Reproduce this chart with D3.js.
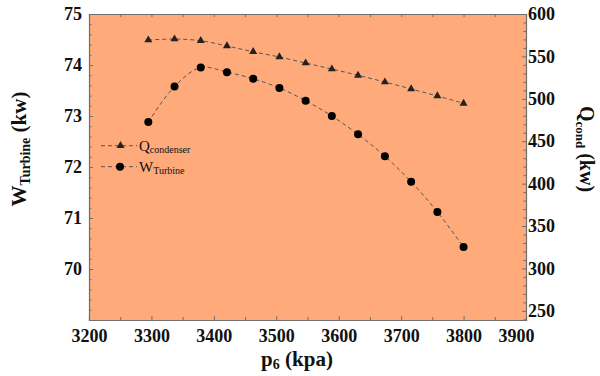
<!DOCTYPE html>
<html><head><meta charset="utf-8">
<script src="https://cdn.jsdelivr.net/npm/d3@7"></script>
<style>body{margin:0;background:#fff}svg{display:block}text{font-family:'Liberation Serif','Times New Roman',serif}</style>
</head><body><svg id="c" width="600" height="376"></svg>
<script>
const pressure = [3295,3337,3379,3421,3463,3505,3547,3589,3631,3674,3716,3758,3800];
const qCondenser = [569.3,570.5,568.5,562.3,555.5,549.3,542.2,535.1,527.7,519.8,511.6,503.3,494.7];
const wTurbine = [72.88,73.58,73.95,73.86,73.73,73.55,73.30,73.00,72.64,72.21,71.71,71.12,70.43];
const xTicks = [3200,3300,3400,3500,3600,3700,3800,3900];
const wTicks = [70,71,72,73,74,75];
const qTicks = [250,300,350,400,450,500,550,600];

const svg = d3.select("#c");
const L=89,R=526,T=14,B=320;
const x = d3.scaleLinear().domain([3200,3900]).range([L,R]);
const yW = d3.scaleLinear().domain([69,75]).range([B,T]);
const yQ = d3.scaleLinear().domain([239.2,600]).range([B,T]);
const axisCol="#6e6e6e";
const font="'Liberation Serif','Times New Roman',serif";

svg.append("rect").attr("x",L).attr("y",T).attr("width",R-L).attr("height",B-T).attr("fill","#FEAA7A");

function styleAxis(g){
  g.attr("font-family",null);
  g.selectAll("path.domain").attr("stroke",axisCol).attr("stroke-width",1.2);
  g.selectAll(".tick line").attr("stroke",axisCol);
  g.selectAll("text").style("font-family",font).attr("font-weight","bold").attr("font-size",18).attr("fill","#111");
}
// bottom axis
const gx = svg.append("g").attr("transform",`translate(0,${B})`)
  .call(d3.axisBottom(x).tickValues(xTicks).tickSize(-4).tickPadding(9).tickFormat(d3.format("d")));
styleAxis(gx);
gx.selectAll(".tick").filter(d=>d===3900).select("text").attr("text-anchor","end").attr("dx",8);
svg.append("g").attr("transform",`translate(0,${B})`)
  .call(d3.axisBottom(x).tickValues(d3.range(3250,3900,100)).tickSize(-3).tickFormat(""))
  .call(g=>{g.select(".domain").remove();g.selectAll("line").attr("stroke",axisCol);});
// top axis
svg.append("g").attr("transform",`translate(0,${T})`)
  .call(d3.axisTop(x).tickValues(d3.range(3250,3900,50)).tickSize(-3).tickFormat(""))
  .call(g=>{g.select(".domain").attr("stroke",axisCol).attr("stroke-width",1.2);g.selectAll("line").attr("stroke",axisCol);});
// left axis
const gl = svg.append("g").attr("transform",`translate(${L},0)`)
  .call(d3.axisLeft(yW).tickValues(wTicks).tickSize(-4).tickPadding(7).tickFormat(d3.format("d")));
styleAxis(gl);
svg.append("g").attr("transform",`translate(${L},0)`)
  .call(d3.axisLeft(yW).tickValues(d3.range(69.2,75,0.2).filter(v=>Math.abs(v-Math.round(v))>0.05)).tickSize(-2.5).tickFormat(""))
  .call(g=>{g.select(".domain").remove();g.selectAll("line").attr("stroke",axisCol);});
// right axis
const gr = svg.append("g").attr("transform",`translate(${R},0)`)
  .call(d3.axisRight(yQ).tickValues(qTicks).tickSize(-4).tickPadding(2).tickFormat(d3.format("d")));
styleAxis(gr);
svg.append("g").attr("transform",`translate(${R},0)`)
  .call(d3.axisRight(yQ).tickValues(d3.range(240,600,10).filter(v=>v%50!==0)).tickSize(-2.5).tickFormat(""))
  .call(g=>{g.select(".domain").remove();g.selectAll("line").attr("stroke",axisCol);});

// lines
const lineQ = d3.line().x((d,i)=>x(pressure[i])).y(d=>yQ(d)).curve(d3.curveCatmullRom);
const lineW = d3.line().x((d,i)=>x(pressure[i])).y(d=>yW(d)).curve(d3.curveCatmullRom);
svg.append("path").attr("d",lineQ(qCondenser)).attr("fill","none").attr("stroke","#555").attr("stroke-width",1).attr("stroke-dasharray","4,3");
svg.append("path").attr("d",lineW(wTurbine)).attr("fill","none").attr("stroke","#555").attr("stroke-width",1).attr("stroke-dasharray","4,3");
const tri = d3.symbol().type(d3.symbolTriangle).size(28);
svg.append("g").selectAll("path").data(qCondenser).join("path")
  .attr("d",tri).attr("transform",(d,i)=>`translate(${x(pressure[i])},${yQ(d)})`).attr("fill","#222");
svg.append("g").selectAll("circle").data(wTurbine).join("circle")
  .attr("cx",(d,i)=>x(pressure[i])).attr("cy",d=>yW(d)).attr("r",4).attr("fill","#000");

// legend
const leg = svg.append("g");
[[145.7,"Q","condenser","tri"],[166.7,"W","Turbine","circ"]].forEach(([yy,m,sub,sym])=>{
  leg.append("line").attr("x1",101).attr("x2",137).attr("y1",yy).attr("y2",yy).attr("stroke","#555").attr("stroke-dasharray","4,3");
  if(sym==="tri") leg.append("path").attr("d",tri).attr("transform",`translate(120.5,${yy})`).attr("fill","#222");
  else leg.append("circle").attr("cx",120).attr("cy",yy).attr("r",4).attr("fill","#000");
  const t=leg.append("text").attr("x",139).attr("y",yy+5).attr("font-size",15).attr("fill","#111");
  t.append("tspan").text(m);
  t.append("tspan").attr("font-size",10).attr("dy",2).text(sub);
});

// axis titles
const tl = svg.append("text").attr("transform","translate(26,149) rotate(-90)").attr("text-anchor","middle")
  .attr("font-weight","bold").attr("font-size",21).attr("fill","#111");
tl.append("tspan").text("W");
tl.append("tspan").attr("font-size",14).attr("dy",4).text("Turbine");
tl.append("tspan").attr("dy",-4).text(" (kw)");
const tr = svg.append("text").attr("transform","translate(580,149) rotate(90)").attr("text-anchor","middle")
  .attr("font-weight","bold").attr("font-size",20).attr("fill","#111");
tr.append("tspan").text("Q");
tr.append("tspan").attr("font-size",13).attr("dy",4).text("cond");
tr.append("tspan").attr("dy",-4).text(" (kw)");
const tx = svg.append("text").attr("x",297).attr("y",366).attr("text-anchor","middle")
  .attr("font-weight","bold").attr("font-size",21).attr("fill","#111");
tx.append("tspan").text("p");
tx.append("tspan").attr("font-size",14).attr("dy",3).text("6");
tx.append("tspan").attr("dy",-3).text(" (kpa)");
</script></body></html>
